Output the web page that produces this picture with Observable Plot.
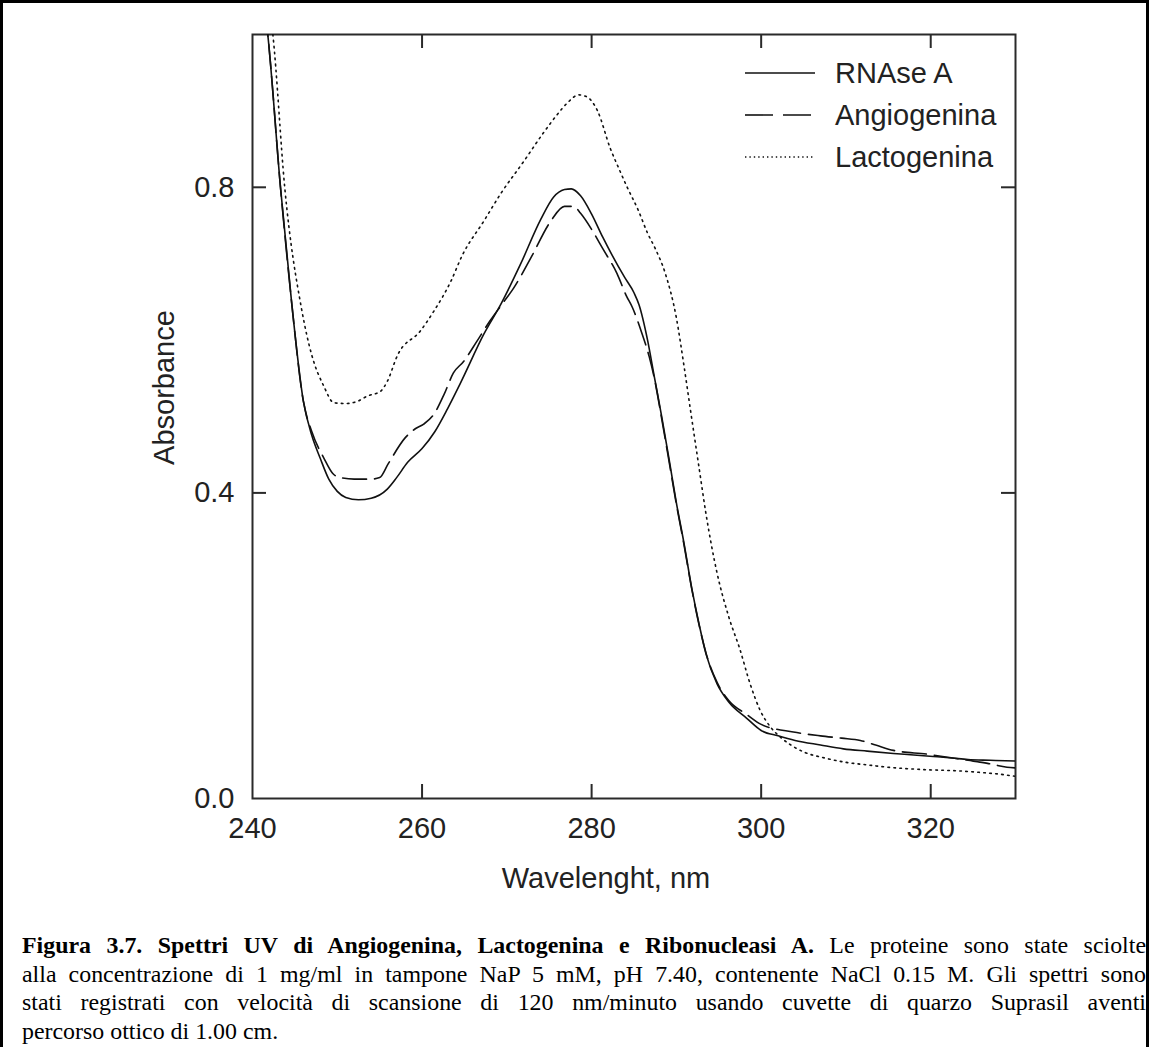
<!DOCTYPE html>
<html>
<head>
<meta charset="utf-8">
<script src="https://cdn.jsdelivr.net/npm/d3@7"></script>
<script src="https://cdn.jsdelivr.net/npm/@observablehq/plot@0.6"></script>
<style>
  html, body { margin: 0; padding: 0; background: #fff; overflow: hidden; }
  #page { position: relative; width: 1149px; height: 1047px; overflow: hidden; }
  #border { position: absolute; left: 0; top: 0; width: 1143px; height: 1100px;
            border-top: 3px solid #000; border-left: 3px solid #000; border-right: 3px solid #000; }
  #chart { position: absolute; left: 0; top: 0; }
  #legend { position: absolute; left: 745px; top: 52px; font-family: "Liberation Sans", Arial, sans-serif;
            font-size: 29px; color: #222; }
  #legend .row { display: flex; align-items: center; height: 42px; }
  #legend svg { margin-right: 20px; }
  #caption { position: absolute; left: 22px; top: 931px; width: 1124px;
             font-family: "Liberation Serif", "Times New Roman", serif; font-size: 23.9px; line-height: 28.5px;
             color: #000; white-space: nowrap; }
  #caption .j { text-align: justify; text-align-last: justify; }
  #caption .l { text-align: left; }
</style>
</head>
<body>
<div id="page">
  <div id="border"></div>
  <div id="chart"></div>
  <div id="legend"></div>
  <div id="caption"></div>
</div>
<script>
// ---- data (wavelength nm, absorbance) ----
const seriesNames = ["RNAse A", "Angiogenina", "Lactogenina"];

const rnaseNm  = [241.0, 241.8, 243.3, 244.6, 246.0, 247.0, 248.0, 249.0, 250.0, 251.0, 252.5, 254.0, 255.9, 257.0, 258.3, 260.0, 261.5, 263.0, 264.5, 267.3, 269.3, 271.6, 274.0, 275.5, 276.8, 277.6, 278.7, 280.0, 281.3, 283.9, 285.0, 285.6, 286.6, 287.4, 288.3, 289.2, 290.0, 290.9, 291.8, 292.7, 293.5, 294.8, 296.2, 298.3, 300.0, 302.0, 304.0, 307.0, 309.7, 312.5, 315.6, 318.0, 320.3, 322.5, 324.4, 327.0, 330.0];
const rnaseAbs = [1.07, 1.00, 0.80, 0.651, 0.52, 0.475, 0.445, 0.418, 0.402, 0.394, 0.391, 0.393, 0.405, 0.42, 0.44, 0.458, 0.48, 0.51, 0.543, 0.608, 0.647, 0.699, 0.758, 0.787, 0.797, 0.798, 0.789, 0.765, 0.735, 0.682, 0.662, 0.646, 0.60, 0.552, 0.498, 0.44, 0.387, 0.334, 0.276, 0.227, 0.189, 0.15, 0.126, 0.105, 0.089, 0.082, 0.076, 0.070, 0.065, 0.062, 0.059, 0.057, 0.055, 0.053, 0.051, 0.050, 0.049];

const angioNm  = [241.0, 241.8, 243.3, 244.6, 246.0, 247.0, 248.4, 249.5, 250.4, 252.0, 254.0, 255.0, 256.0, 258.0, 259.2, 260.2, 261.4, 262.6, 263.7, 264.9, 266.5, 268.0, 269.5, 270.8, 272.8, 275.2, 276.8, 277.9, 278.7, 280.0, 281.3, 283.0, 284.1, 284.8, 285.9, 286.8, 287.4, 288.3, 289.2, 290.0, 290.9, 291.8, 292.7, 293.5, 294.8, 296.2, 298.3, 300.0, 303.8, 307.0, 309.5, 311.7, 313.5, 315.6, 319.6, 322.0, 324.4, 326.7, 329.0, 330.0];
const angioAbs = [1.07, 1.00, 0.80, 0.651, 0.52, 0.48, 0.446, 0.425, 0.42, 0.418, 0.418, 0.42, 0.438, 0.472, 0.484, 0.49, 0.503, 0.529, 0.557, 0.572, 0.599, 0.625, 0.648, 0.668, 0.707, 0.756, 0.775, 0.775, 0.766, 0.745, 0.72, 0.687, 0.658, 0.643, 0.61, 0.578, 0.55, 0.495, 0.437, 0.385, 0.332, 0.275, 0.226, 0.19, 0.152, 0.128, 0.11, 0.097, 0.087, 0.082, 0.079, 0.076, 0.070, 0.063, 0.058, 0.054, 0.050, 0.046, 0.041, 0.040];

const lactoNm  = [241.5, 242.4, 243.8, 245.8, 247.0, 248.4, 249.6, 251.0, 252.4, 253.6, 255.1, 255.9, 257.1, 259.8, 261.4, 263.4, 264.7, 267.3, 269.3, 272.0, 274.3, 276.0, 277.1, 278.5, 279.5, 280.7, 282.2, 283.2, 284.2, 285.5, 286.6, 287.5, 288.7, 290.0, 290.9, 291.8, 292.7, 293.5, 294.8, 296.2, 297.5, 298.7, 299.9, 301.0, 302.3, 303.5, 305.0, 307.5, 310.2, 312.5, 314.9, 318.8, 323.5, 326.0, 328.0, 330.0];
const lactoAbs = [1.07, 1.00, 0.80, 0.64, 0.58, 0.54, 0.518, 0.517, 0.52, 0.527, 0.533, 0.546, 0.58, 0.612, 0.638, 0.677, 0.71, 0.756, 0.792, 0.834, 0.871, 0.896, 0.91, 0.921, 0.918, 0.90, 0.851, 0.825, 0.80, 0.77, 0.74, 0.72, 0.687, 0.629, 0.566, 0.498, 0.431, 0.372, 0.295, 0.237, 0.195, 0.15, 0.115, 0.095, 0.08, 0.07, 0.061, 0.053, 0.047, 0.044, 0.041, 0.038, 0.036, 0.034, 0.032, 0.029];

const xTicks = [240, 260, 280, 300, 320];
const yTicks = [0.0, 0.4, 0.8];
const xLabel = "Wavelenght, nm";
const yLabel = "Absorbance";

const captionBold = "Figura 3.7. Spettri UV di Angiogenina, Lactogenina e Ribonucleasi A.";
const captionLines = [
  " Le proteine sono state sciolte",
  "alla concentrazione di 1 mg/ml in tampone NaP 5 mM, pH 7.40, contenente NaCl 0.15 M. Gli spettri sono",
  "stati registrati con velocità di scansione di 120 nm/minuto usando cuvette di quarzo Suprasil aventi",
  "percorso ottico di 1.00 cm."
];

// ---- build ----
const dashes = {"RNAse A": null, "Angiogenina": "24,8", "Lactogenina": "1.6,4.4"};
const rows = [];
[[rnaseNm, rnaseAbs, seriesNames[0]], [angioNm, angioAbs, seriesNames[1]], [lactoNm, lactoAbs, seriesNames[2]]]
  .forEach(([xs, ys, name]) => xs.forEach((x, i) => rows.push({nm: x, abs: ys[i], series: name})));

const W = 1149, H = 900;
const mL = 252, mR = 134, mT = 34, mB = H - 798;
const xDom = [240, 330], yDom = [0, 1.0];
const tickPx = 14;
const tickY = tickPx * (yDom[1] - yDom[0]) / (H - mT - mB);
const tickX = tickPx * (xDom[1] - xDom[0]) / (W - mL - mR);
const axisColor = "#2a2a2a";
const font = '"Liberation Sans", Arial, sans-serif';

const marks = [
  Plot.frame({stroke: axisColor, strokeWidth: 2}),
  Plot.ruleX(xTicks.slice(1), {x: d => d, y1: yDom[0], y2: yDom[0] + tickY, stroke: axisColor, strokeWidth: 2}),
  Plot.ruleX(xTicks.slice(1), {x: d => d, y1: yDom[1], y2: yDom[1] - tickY, stroke: axisColor, strokeWidth: 2}),
  Plot.ruleY(yTicks.slice(1), {y: d => d, x1: xDom[0], x2: xDom[0] + tickX, stroke: axisColor, strokeWidth: 2}),
  Plot.ruleY(yTicks.slice(1), {y: d => d, x1: xDom[1], x2: xDom[1] - tickX, stroke: axisColor, strokeWidth: 2}),
  Plot.axisX(xTicks, {tickSize: 0, tickPadding: 19, fontSize: 29, fill: "#222", label: null}),
  Plot.axisY(yTicks, {tickSize: 0, tickPadding: 18, fontSize: 29, fill: "#222", label: null, tickFormat: d3.format(".1f")}),
  Plot.text([xLabel], {text: d => d, frameAnchor: "bottom", dx: -28, dy: 89, fontSize: 29, fill: "#222"}),
  Plot.text([yLabel], {text: d => d, frameAnchor: "left", textAnchor: "middle", rotate: -90, dx: -88, dy: -29, fontSize: 29, fill: "#222"})
];
seriesNames.forEach(name => {
  marks.push(Plot.line(rows.filter(r => r.series === name), {
    x: "nm", y: "abs", stroke: "#111", strokeWidth: 1.6,
    strokeDasharray: dashes[name], curve: "monotone-x", clip: true
  }));
});

const chart = Plot.plot({
  width: W, height: H,
  marginLeft: mL, marginRight: mR, marginTop: mT, marginBottom: mB,
  x: {domain: xDom},
  y: {domain: yDom},
  style: {fontFamily: font, background: "transparent", overflow: "visible"},
  marks
});
document.getElementById("chart").appendChild(chart);

// legend
const legend = document.getElementById("legend");
seriesNames.forEach(name => {
  const row = document.createElement("div");
  row.className = "row";
  const dash = dashes[name] ? `stroke-dasharray="${dashes[name] === "24,8" ? "28,10" : "1.4,3"}"` : "";
  row.innerHTML = `<svg width="70" height="10"><line x1="0" y1="5" x2="70" y2="5" stroke="#111" stroke-width="1.6" ${dash}/></svg><span>${name}</span>`;
  legend.appendChild(row);
});

// caption
const cap = document.getElementById("caption");
captionLines.forEach((line, i) => {
  const div = document.createElement("div");
  div.className = i < captionLines.length - 1 ? "j" : "l";
  div.style.whiteSpace = "normal";
  if (i === 0) {
    const b = document.createElement("b");
    b.textContent = captionBold;
    div.appendChild(b);
  }
  div.appendChild(document.createTextNode(line));
  cap.appendChild(div);
});
</script>
</body>
</html>
